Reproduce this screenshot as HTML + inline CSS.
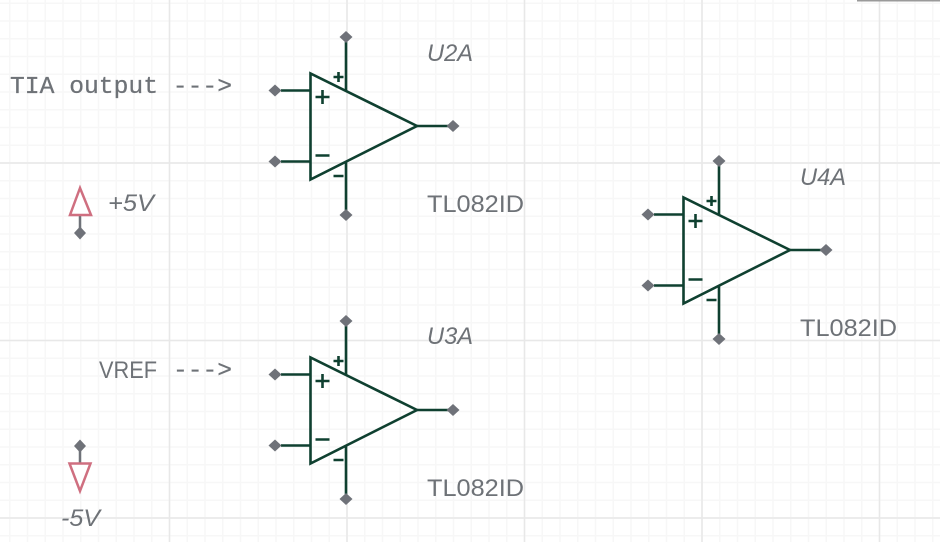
<!DOCTYPE html>
<html><head><meta charset="utf-8"><style>
html,body{margin:0;padding:0;background:#fff}
svg{display:block}
.t{font-family:"Liberation Sans",sans-serif;font-size:24px;fill:#6e7277}
.i{font-style:italic}
.m{font-family:"Liberation Mono",monospace;font-size:24px;fill:#6e7277;stroke:#6e7277;stroke-width:.25}
</style></head><body>
<svg width="940" height="542" viewBox="0 0 940 542" xmlns="http://www.w3.org/2000/svg">
<defs>
<pattern id="minor" width="17.75" height="17.75" patternUnits="userSpaceOnUse" x="9" y="2.5">
<path d="M0.75 0V17.75M0 0.75H17.75" stroke="#f7f7f7" stroke-width="1.5" fill="none"/>
</pattern>
<g id="op">
<g stroke="#0f4030" stroke-width="2.6" fill="none">
<path d="M310.5 73.500V179.500L417 126Z" stroke-linejoin="miter"/>
<path d="M281 90.500H310M281 161.500H310M346 42V91M346 161V210M417 126H448"/>
<path d="M315.500 97H329.500M322.500 90V104M315.500 155.500H329.500M333.500 77H343.500M338.500 72V82M333.500 176H343.500"/>
</g>
<g fill="#6f7279">
<path d="M275 84.500L281.500 90.500 275 96.500 268.500 90.500Z"/>
<path d="M275 155.500L281.500 161.500 275 167.500 268.500 161.500Z"/>
<path d="M346 31L352.500 37 346 43 339.500 37Z"/>
<path d="M346 209L352.500 215 346 221 339.500 215Z"/>
<path d="M453 120L459.500 126 453 132 446.500 126Z"/>
</g>
</g>
</defs>
<rect width="940" height="542" fill="#fff"/>
<rect width="940" height="542" fill="url(#minor)"/>
<path d="M169.500 0V542M347 0V542M524.500 0V542M702 0V542M879.500 0V542M0 163H940M0 340.500H940M0 518H940" stroke="#e8e8e8" stroke-width="1.500" fill="none"/>
<rect x="857" y="0" width="83" height="1.500" fill="#9a9a9a"/>
<use href="#op"/>
<use href="#op" y="284"/>
<use href="#op" x="373" y="124"/>
<text class="t i" x="427" y="61" textLength="46" lengthAdjust="spacingAndGlyphs">U2A</text>
<text class="t" x="427" y="212" textLength="97" lengthAdjust="spacingAndGlyphs">TL082ID</text>
<text class="t i" x="427" y="344" textLength="46" lengthAdjust="spacingAndGlyphs">U3A</text>
<text class="t" x="427" y="496" textLength="97" lengthAdjust="spacingAndGlyphs">TL082ID</text>
<text class="t i" x="800" y="185" textLength="46" lengthAdjust="spacingAndGlyphs">U4A</text>
<text class="t" x="800" y="336" textLength="97" lengthAdjust="spacingAndGlyphs">TL082ID</text>
<text class="m" x="10" y="93" textLength="222" lengthAdjust="spacingAndGlyphs">TIA output ---&gt;</text>
<text class="t" x="99" y="378" textLength="58" lengthAdjust="spacingAndGlyphs">VREF</text>
<text class="m" x="173" y="377" textLength="59" lengthAdjust="spacingAndGlyphs">---&gt;</text>
<text class="t i" x="108" y="211" textLength="46" lengthAdjust="spacingAndGlyphs">+5V</text>
<text class="t i" x="61" y="526" textLength="39" lengthAdjust="spacingAndGlyphs">-5V</text>
<path d="M80 215V232M80 447V464" stroke="#6f7279" stroke-width="2.500" fill="none"/>
<path d="M80 188L70 215H91Z" fill="#fff" stroke="#cf6f80" stroke-width="2.500"/>
<path d="M80 491L69.500 463.500H90.500Z" fill="#fff" stroke="#cf6f80" stroke-width="2.500"/>
<path d="M80 226.500L86 233 80 239.500 74 233Z" fill="#6f7279"/>
<path d="M80 439.500L86 446 80 452.500 74 446Z" fill="#6f7279"/>
</svg>
</body></html>
